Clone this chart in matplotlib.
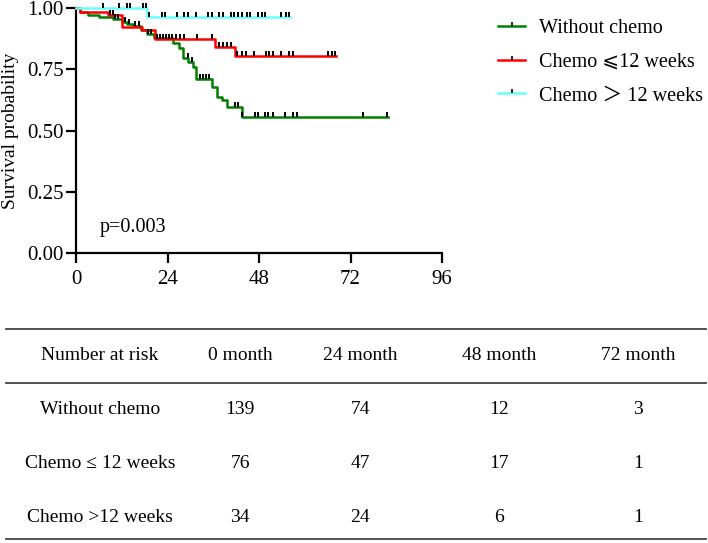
import numpy as np
import matplotlib
matplotlib.use("Agg")
import matplotlib.pyplot as plt
from matplotlib.lines import Line2D

plt.rcParams['font.family'] = ['Liberation Serif', 'DejaVu Serif', 'DejaVu Sans', 'Noto Sans CJK JP']
plt.rcParams['mathtext.fontset'] = 'stix'

# Kaplan-Meier step data (months, survival after the step)
green_t = [0, 1.0, 3.2, 6.0, 9.8, 12.0, 13.5, 15.0, 17.0, 18.5, 20.5, 25.5, 26.9, 28.1,
           29.5, 30.8, 31.6, 35.6, 36.9, 38.2, 39.5, 43.5]
green_s = [1.0, 0.985, 0.971, 0.965, 0.955, 0.944, 0.935, 0.925, 0.91, 0.893, 0.877, 0.856,
           0.835, 0.797, 0.78, 0.761, 0.709, 0.676, 0.638, 0.624, 0.597, 0.556]
green_end = 81.8
green_cens = [10.2, 11.1, 12.8, 13.8, 15.5, 16.5, 18.8, 19.8, 29.4, 30.3, 32.5, 33.2, 34.1,
              35.0, 41.7, 42.6, 43.5, 47.0, 47.8, 49.6, 50.4, 51.8, 54.8, 56.8, 57.9, 75.2, 81.5]

red_t = [0, 1.0, 8.5, 12.0, 17.2, 20.7, 36.5, 41.7]
red_s = [1.0, 0.985, 0.971, 0.924, 0.91, 0.872, 0.842, 0.804]
red_end = 68.2
red_cens = [8.9, 9.8, 21.2, 22.0, 22.9, 23.6, 24.5, 25.3, 26.2, 27.3, 28.3, 31.7, 35.6, 37.6,
            38.6, 39.5, 40.6, 42.3, 43.5, 44.6, 46.7, 49.8, 50.7, 51.8, 53.9, 55.9, 57.0,
            66.2, 67.1, 67.9]

cyan_t = [0, 18.5]
cyan_s = [1.0, 0.965]
cyan_end = 56.1
cyan_cens = [7.2, 11.4, 13.3, 14.2, 17.7, 18.4, 19.2, 22.5, 23.3, 26.4, 28.3, 29.5, 31.5, 34.7,
             35.6, 37.6, 38.6, 40.6, 41.4, 42.6, 43.5, 44.8, 45.6, 47.8, 48.7, 49.6, 53.9,
             55.1, 55.9]

labels = ["Without chemo", "Chemo \u2a7d12 weeks", "Chemo \uff1e 12 weeks"]
colors = ["#008000", "#ff0000", "#66ffff"]

# number at risk table
risk_header = ["Number at risk", "0 month", "24 month", "48 month", "72 month"]
risk_groups = ["Without chemo", "Chemo \u2264 12 weeks", "Chemo >12 weeks"]
risk_values = [[139, 74, 12, 3],
               [76, 47, 17, 1],
               [34, 24, 6, 1]]

W, H = 708, 543
fig = plt.figure(figsize=(W / 100, H / 100), dpi=100)
ax = fig.add_axes([76 / W, 1 - 253 / H, 366 / W, 245 / H])

tick_mark = [(0, 0), (0, 1)]


def surv_at(t, s, x):
    idx = np.searchsorted(t, x, side='right') - 1
    return np.asarray(s)[idx]


curves = [(green_t, green_s, green_end, green_cens),
          (red_t, red_s, red_end, red_cens),
          (cyan_t, cyan_s, cyan_end, cyan_cens)]

for (t, s, end, cens), col in zip(curves, colors):
    ax.step(list(t) + [end], list(s) + [s[-1]], where='post', color=col, lw=1.8,
            clip_on=False, zorder=3)
for (t, s, end, cens), col in zip(curves, colors):
    ax.plot(cens, surv_at(t, s, cens), ls='none', marker=tick_mark, ms=7, mew=1.4,
            mec='black', clip_on=False, zorder=4)

ax.set_xlim(0, 96)
ax.set_ylim(0, 1)
ax.set_xticks([0, 24, 48, 72, 96])
ax.set_yticks([0, 0.25, 0.5, 0.75, 1.0])
ax.set_yticklabels(["0.00", "0.25", "0.50", "0.75", "1.00"])
for sp in ['top', 'right']:
    ax.spines[sp].set_visible(False)
for sp in ['left', 'bottom']:
    ax.spines[sp].set_linewidth(1.6)
ax.tick_params(direction='out', length=7, width=1.6, labelsize=15, pad=2)
ax.tick_params(axis='x', pad=5)
ax.set_ylabel("Survival probability", fontsize=14)
ax.yaxis.set_label_coords(-57 / 366, 0.5)
ax.text(6.3, 0.105, "p=0.003", fontsize=14.5, va='center')

handles = [Line2D([], [], color=c, lw=1.8, marker=tick_mark, ms=6, mew=1.2, mec='black')
           for c in colors]
fig.legend(handles, labels, loc='upper left', bbox_to_anchor=(480 / W, 1 - 1 / H),
           frameon=False, fontsize=14.5, handlelength=1.35, handletextpad=0.7,
           labelspacing=0.72, numpoints=1)

# table
for yl in [329, 383, 539]:
    fig.add_artist(Line2D([6 / W, 706 / W], [1 - yl / H, 1 - yl / H], color='#444444', lw=1.3))

col_x = [100, 240, 360, 499, 638]
row_y = [356, 410, 463, 517]
for x, txt in zip(col_x, risk_header):
    fig.text(x / W, 1 - row_y[0] / H, txt, ha='center', va='center', fontsize=14)
for i, grp in enumerate(risk_groups):
    y = 1 - row_y[i + 1] / H
    fig.text(col_x[0] / W, y, grp, ha='center', va='center', fontsize=14)
    for x, v in zip(col_x[1:], risk_values[i]):
        fig.text(x / W, y, str(v), ha='center', va='center', fontsize=14)

fig.savefig("out.png", dpi=100)
